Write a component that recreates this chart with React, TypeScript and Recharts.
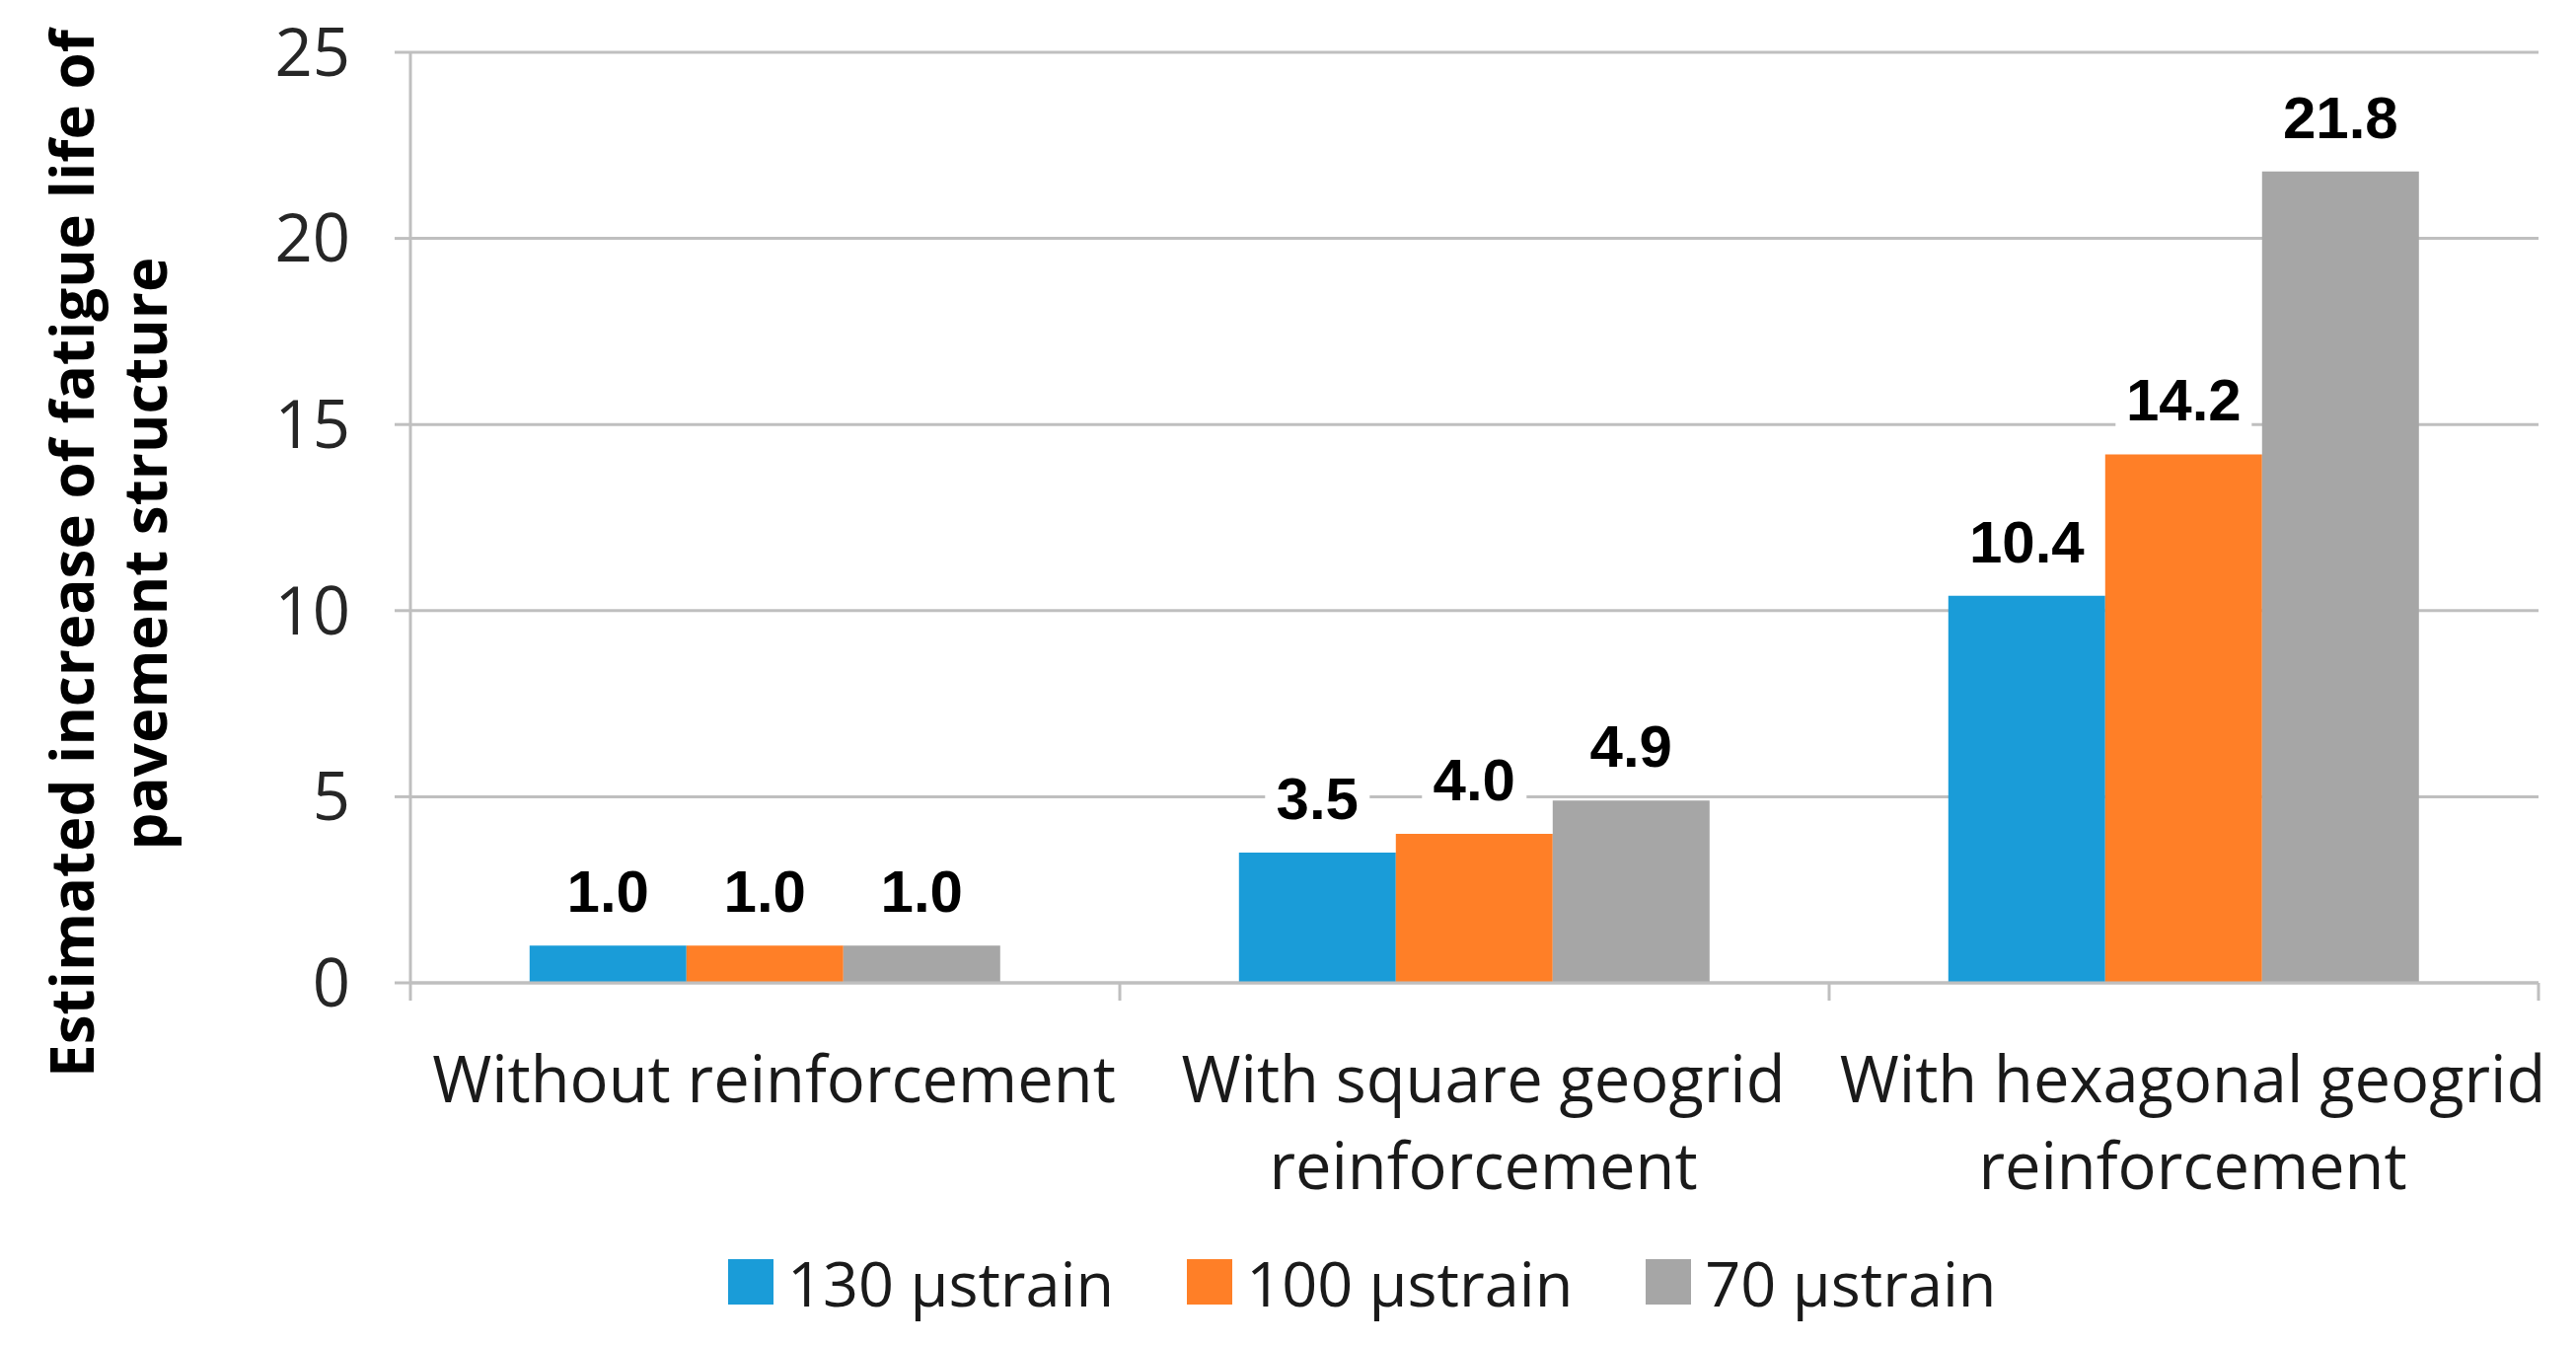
import React from 'react';
import { BarChart, Bar, XAxis, YAxis, CartesianGrid, LabelList } from 'recharts';

// chart values
const categoryLines: string[][] = [
  ['Without reinforcement'],
  ['With square geogrid', 'reinforcement'],
  ['With hexagonal geogrid', 'reinforcement'],
];
const strain130 = [1.0, 3.5, 10.4];
const strain100 = [1.0, 4.0, 14.2];
const strain70 = [1.0, 4.9, 21.8];
const seriesNames = ['130 µstrain', '100 µstrain', '70 µstrain'];
const seriesKeys = ['s130', 's100', 's70'];
const seriesColors = ['#1a9cd8', '#ff7f27', '#a6a6a6'];
const yTicks = [0, 5, 10, 15, 20, 25];
const yLabelLines = ['Estimated increase of fatigue life of', 'pavement structure'];

const data = categoryLines.map((lines, i) => ({
  name: lines.join(' '),
  s130: strain130[i],
  s100: strain100[i],
  s70: strain70[i],
}));

const W = 2611;
const H = 1363;
const MARGIN = { top: 53, right: 38, left: 0, bottom: 167 };
const Y_AXIS_W = 416;
const BAND = (W - Y_AXIS_W - MARGIN.right) / categoryLines.length;
const GRID = '#bfbfbf';
const FONT = '"Open Sans", sans-serif';

const CategoryTick = (props: any) => {
  const { x, y, index } = props;
  const lines = categoryLines[index] || [];
  return (
    <g>
      <line x1={x - BAND / 2} x2={x - BAND / 2} y1={y} y2={y + 18} stroke={GRID} strokeWidth={3} />
      {index === categoryLines.length - 1 && (
        <line x1={x + BAND / 2} x2={x + BAND / 2} y1={y} y2={y + 18} stroke={GRID} strokeWidth={3} />
      )}
      {lines.map((l, i) => (
        <text key={i} x={x + 9} y={y + 121 + i * 88} textAnchor="middle" fontFamily={FONT} fontSize={65} fill="#1a1a1a">
          {l}
        </text>
      ))}
    </g>
  );
};

const ValueLabel = (props: any) => {
  const { x, y, width, value } = props;
  const cx = x + width / 2;
  const txt = Number(value).toFixed(1);
  const tw = txt.length * 32 + 10;
  return (
    <g>
      <rect x={cx - tw / 2} y={y - 88} width={tw} height={66} fill="#ffffff" />
      <text x={cx} y={y - 34} textAnchor="middle" fontFamily='"Liberation Sans", Arial, sans-serif' fontWeight="bold" fontSize={60} fill="#000">
        {txt}
      </text>
    </g>
  );
};

export default function App() {
  return (
    <div style={{ position: 'absolute', left: 0, top: 0, width: W, height: H, background: '#fff' }}>
      <BarChart width={W} height={H} data={data} margin={MARGIN} barCategoryGap="16.8%" barGap={0}>
        <CartesianGrid vertical={false} stroke={GRID} strokeWidth={3} />
        <XAxis
          dataKey="name"
          height={200}
          axisLine={{ stroke: GRID, strokeWidth: 3 }}
          tickLine={false}
          tickSize={0}
          tickMargin={0}
          tick={<CategoryTick />}
          interval={0}
        />
        <YAxis
          width={Y_AXIS_W}
          domain={[0, 25]}
          ticks={yTicks}
          axisLine={{ stroke: GRID, strokeWidth: 3 }}
          tickLine={{ stroke: GRID, strokeWidth: 3 }}
          tickSize={16}
          tickMargin={45}
          tick={{ fontFamily: FONT, fontSize: 67, fill: '#262626' }}
        />
        {seriesKeys.map((k, i) => (
          <Bar key={k} dataKey={k} name={seriesNames[i]} fill={seriesColors[i]} isAnimationActive={false}>
            <LabelList dataKey={k} content={<ValueLabel />} />
          </Bar>
        ))}
      </BarChart>
      <div
        style={{
          position: 'absolute', left: 738, top: 1258, height: 82,
          display: 'flex', alignItems: 'center', fontFamily: FONT, fontSize: 63, color: '#1a1a1a',
        }}
      >
        {seriesNames.map((n, i) => (
          <div key={n} style={{ display: 'flex', alignItems: 'center', marginRight: 74 }}>
            <span style={{ display: 'inline-block', width: 46, height: 46, background: seriesColors[i], marginRight: 14 }} />
            <span>{n}</span>
          </div>
        ))}
      </div>
      <svg width={W} height={H} style={{ position: 'absolute', left: 0, top: 0, pointerEvents: 'none' }}>
        {yLabelLines.map((l, i) => (
          <text
            key={i}
            transform={`translate(${95 + i * 74}, 561) rotate(-90)`}
            textAnchor="middle"
            fontFamily={FONT}
            fontWeight="bold"
            fontSize={60}
            fill="#000"
          >
            {l}
          </text>
        ))}
      </svg>
    </div>
  );
}
